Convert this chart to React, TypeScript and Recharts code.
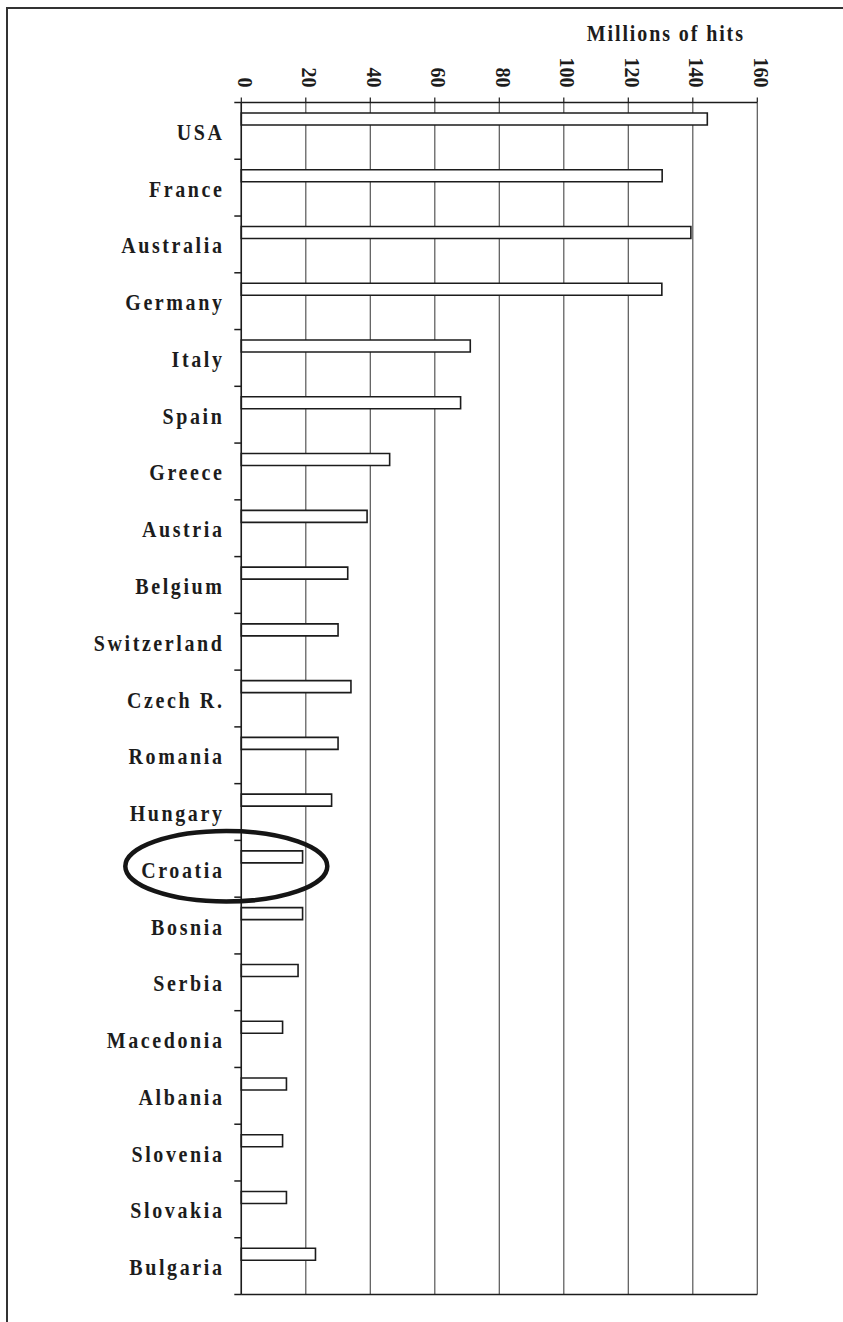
import React from "react";
import { BarChart, Bar, XAxis, YAxis, CartesianGrid, ReferenceDot, Label } from "recharts";

const categories = [
  "USA", "France", "Australia", "Germany", "Italy", "Spain", "Greece", "Austria",
  "Belgium", "Switzerland", "Czech R.", "Romania", "Hungary", "Croatia", "Bosnia",
  "Serbia", "Macedonia", "Albania", "Slovenia", "Slovakia", "Bulgaria",
];
const hits = [
  144.5, 130.5, 139.4, 130.4, 71, 68, 46, 39, 33, 30, 34, 30, 28, 19, 19, 17.6, 12.8, 14, 12.8, 14, 23,
];
const xTicks = [0, 20, 40, 60, 80, 100, 120, 140, 160];
const axisTitle = "Millions of hits";
const highlighted = "Croatia";

const data = categories.map((c, i) => ({ country: c, hits: hits[i] }));

const FONT = '"Liberation Serif", "Times New Roman", serif';
const INK = "#1c1c1c";

function CountryTick(props: any) {
  const { x, y, payload, index } = props;
  const half =
    payload && typeof payload.offset === "number" && payload.offset > 0
      ? payload.offset
      : (props.height || 1192) / categories.length / 2;
  const isLast = index === categories.length - 1;
  return (
    <g>
      <line x1={x} x2={x - 7} y1={y - half} y2={y - half} stroke={INK} strokeWidth={1.5} />
      {isLast ? (
        <line x1={x} x2={x - 7} y1={y + half} y2={y + half} stroke={INK} strokeWidth={1.5} />
      ) : null}
      <text
        transform={`translate(${x - 16.8}, ${y + 9}) scale(1, 1.2)`}
        textAnchor="end"
        fontFamily={FONT}
        fontWeight="bold"
        fontSize={20}
        letterSpacing={2.6}
        fill={INK}
      >
        {payload.value}
      </text>
    </g>
  );
}

function ValueTick(props: any) {
  const { x, y, payload } = props;
  return (
    <text
      transform={`translate(${x - 3.8}, ${y}) rotate(90)`}
      textAnchor="end"
      fontFamily={FONT}
      fontWeight="bold"
      fontSize={20}
      fill={INK}
    >
      {payload.value}
    </text>
  );
}

function TitleLabel(props: any) {
  const vb = props.viewBox || { x: 0, y: 0, width: 0 };
  return (
    <text
      transform={`translate(${vb.x + vb.width - 170.6}, ${vb.y + 0.5}) scale(1, 1.15)`}
      textAnchor="start"
      fontFamily={FONT}
      fontWeight="bold"
      fontSize={20}
      letterSpacing={1.9}
      fill={INK}
    >
      {axisTitle}
    </text>
  );
}

function Ring(props: any) {
  const { cx, cy } = props;
  return (
    <ellipse
      cx={cx - 15}
      cy={cy - 2.5}
      rx={101}
      ry={35.3}
      fill="none"
      stroke="#151515"
      strokeWidth={4.5}
    />
  );
}

export default function App() {
  return (
    <div
      style={{
        position: "absolute",
        left: 0,
        top: 0,
        width: 843,
        height: 1322,
        overflow: "hidden",
        background: "#fff",
      }}
    >
      <div
        style={{
          position: "absolute",
          left: 6,
          top: 7,
          width: 2000,
          height: 2000,
          borderLeft: "2px solid #333",
          borderTop: "2px solid #333",
        }}
      />
      <div style={{ position: "absolute", left: 0, top: 0 }}>
        <BarChart
          width={843}
          height={1322}
          data={data}
          layout="vertical"
          margin={{ top: 40.5, right: 85.7, bottom: 25.5, left: 0 }}
          barCategoryGap="18.5%"
          barGap={0}
        >
          <CartesianGrid horizontal={false} vertical stroke="#555" strokeWidth={1.2} />
          <XAxis
            orientation="top"
            type="number"
            domain={[0, 160]}
            ticks={xTicks}
            interval={0}
            height={62}
            tickSize={5}
            tickMargin={10}
            tick={<ValueTick />}
            axisLine={{ stroke: INK, strokeWidth: 1.5 }}
            tickLine={{ stroke: INK, strokeWidth: 1.2 }}
          >
            <Label content={<TitleLabel />} />
          </XAxis>
          <XAxis
            xAxisId="bottom"
            orientation="bottom"
            type="number"
            domain={[0, 160]}
            ticks={xTicks}
            height={2}
            tick={false}
            tickLine={false}
            axisLine={{ stroke: INK, strokeWidth: 1.5 }}
          />
          <YAxis
            type="category"
            dataKey="country"
            width={241.3}
            interval={0}
            axisLine={{ stroke: INK, strokeWidth: 1.5 }}
            tickLine={false}
            tickSize={0}
            tickMargin={0}
            tick={<CountryTick />}
          />
          <Bar dataKey="hits" fill="#fff" stroke={INK} strokeWidth={1.6} isAnimationActive={false} />
          <Bar dataKey="padA" fill="none" isAnimationActive={false} />
          <Bar dataKey="padB" fill="none" isAnimationActive={false} />
          <ReferenceDot x={0} y={highlighted} ifOverflow="visible" shape={<Ring />} />
        </BarChart>
      </div>
    </div>
  );
}
